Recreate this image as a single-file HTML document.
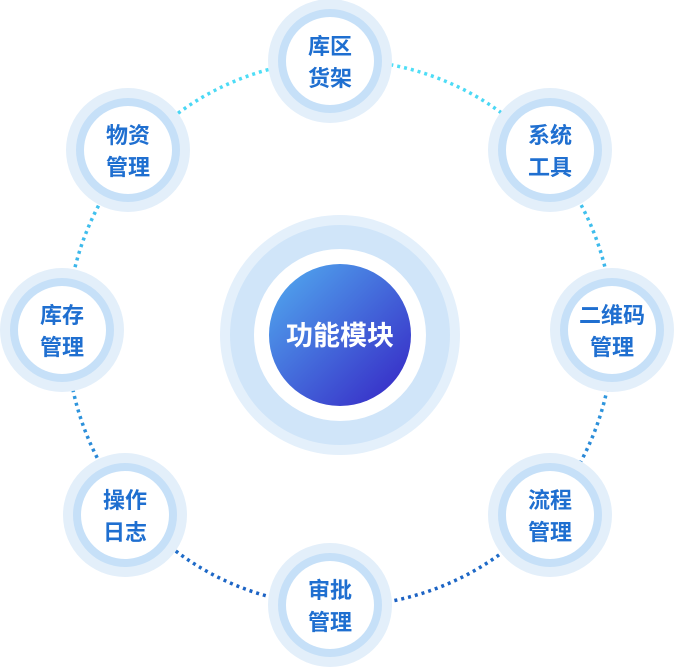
<!DOCTYPE html>
<html><head><meta charset="utf-8"><style>
html,body{margin:0;padding:0;background:#fff;}
svg{display:block;}
.t{font-family:"Liberation Sans","Noto Sans CJK SC",sans-serif;font-weight:bold;font-size:22px;fill:#1f6fd0;text-anchor:middle;}
</style></head><body>
<svg width="674" height="672" viewBox="0 0 674 672" xmlns="http://www.w3.org/2000/svg">
<defs>
<linearGradient id="dg" x1="0" y1="0" x2="0" y2="1">
<stop offset="0" stop-color="#4fe0f7"/><stop offset="0.5" stop-color="#35a8e6"/><stop offset="1" stop-color="#1a5fc2"/>
</linearGradient>
<linearGradient id="cg" x1="0" y1="0" x2="1" y2="1">
<stop offset="0" stop-color="#52aef0"/><stop offset="1" stop-color="#3522c4"/>
</linearGradient>
<g id="n">
<circle r="62" fill="#e3effa"/>
<circle r="52" fill="#c6e0f8"/>
<circle r="44" fill="#fff"/>
</g>
</defs>
<circle cx="340" cy="333" r="273" fill="none" stroke="url(#dg)" stroke-width="3.5" stroke-dasharray="3 4"/>
<circle cx="340" cy="335" r="120" fill="#e4f0fb"/>
<circle cx="340" cy="335" r="110" fill="#d0e5f9"/>
<circle cx="340" cy="335" r="86" fill="#fff"/>
<circle cx="340" cy="335" r="71" fill="url(#cg)"/>
<text x="340" y="345" class="t" style="fill:#fff;font-size:27px">功能模块</text>

<use href="#n" x="330" y="61"/><text class="t" x="330" y="54">库区</text><text class="t" x="330" y="86">货架</text>
<use href="#n" x="550" y="150"/><text class="t" x="550" y="143">系统</text><text class="t" x="550" y="175">工具</text>
<use href="#n" x="612" y="330"/><text class="t" x="612" y="323">二维码</text><text class="t" x="612" y="355">管理</text>
<use href="#n" x="550" y="515"/><text class="t" x="550" y="508">流程</text><text class="t" x="550" y="540">管理</text>
<use href="#n" x="330" y="605"/><text class="t" x="330" y="598">审批</text><text class="t" x="330" y="630">管理</text>
<use href="#n" x="125" y="515"/><text class="t" x="125" y="508">操作</text><text class="t" x="125" y="540">日志</text>
<use href="#n" x="62" y="330"/><text class="t" x="62" y="323">库存</text><text class="t" x="62" y="355">管理</text>
<use href="#n" x="128" y="150"/><text class="t" x="128" y="143">物资</text><text class="t" x="128" y="175">管理</text>
</svg>
</body></html>
